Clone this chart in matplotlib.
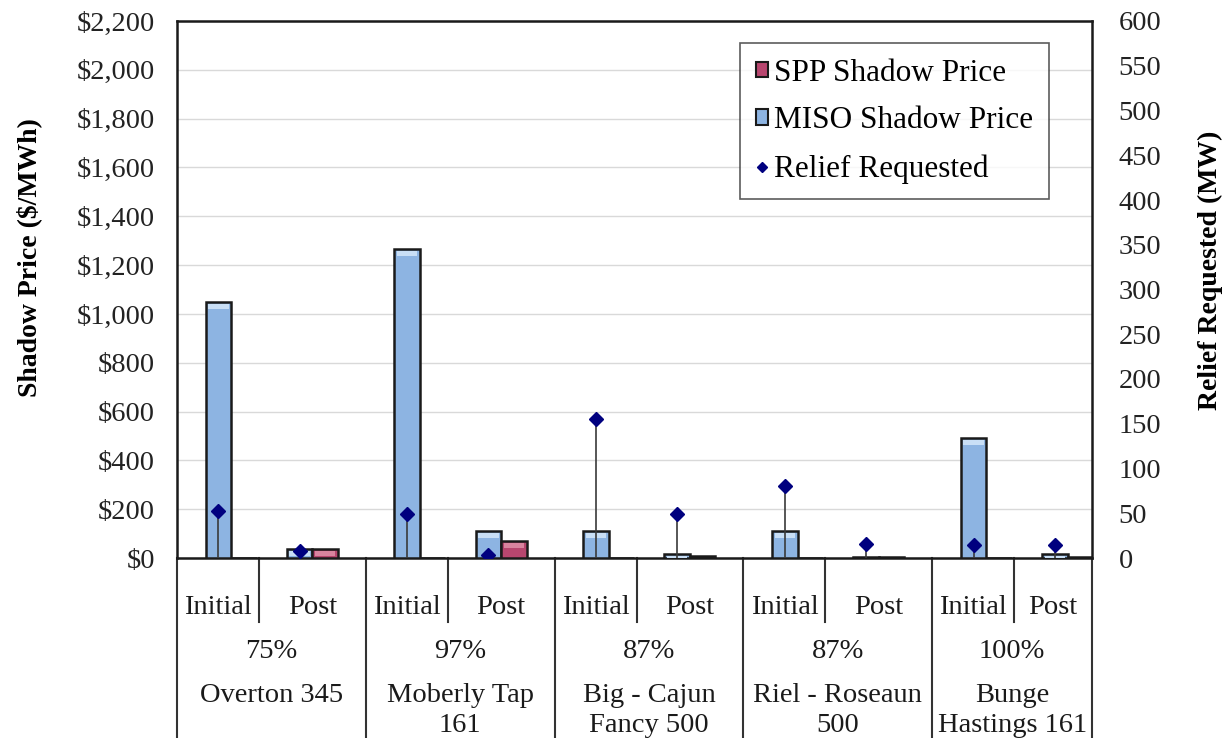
import matplotlib.pyplot as plt
import matplotlib.transforms as mtransforms
from matplotlib.patches import Patch
from matplotlib.lines import Line2D
from matplotlib.ticker import FuncFormatter, MultipleLocator

plt.rcParams['font.family'] = ['Liberation Serif', 'DejaVu Serif']

# data
constraints = ['Overton 345', 'Moberly Tap\n161', 'Big - Cajun\nFancy 500',
               'Riel - Roseaun\n500', 'Bunge\nHastings 161']
loading = ['75%', '97%', '87%', '87%', '100%']
phases = ['Initial', 'Post']

miso_initial = [1050, 1265, 110, 110, 490]
miso_post = [35, 110, 15, 3, 16]
spp_initial = [0, 0, 0, 0, 0]
spp_post = [38, 70, 8, 3, 6]
relief_initial = [52, 49, 155, 80, 15]
relief_post = [8, 3, 49, 16, 15]

MISO_COLOR = '#8DB4E2'
MISO_LIGHT = '#C9DFF6'
SPP_COLOR = '#B8466F'
SPP_LIGHT = '#D9849F'
EDGE = '#1a1a1a'

# layout inside one constraint group (group width = 1)
bar_w = 0.135
phase_off = [0.219, 0.649]
split = 0.434
x_max = 4.846
px = 2200 / 537  # dollars per pixel, for the light band at the bar tops


def draw_bars(xs, vals, color, light):
    ax.bar(xs, vals, width=bar_w, color=color, edgecolor=EDGE,
           linewidth=1.8, zorder=3)
    band_bottom = [max(v - 7 * px, 0) for v in vals]
    band_h = [max(v - 2 * px - b, 0) for v, b in zip(vals, band_bottom)]
    ax.bar(xs, band_h, bottom=band_bottom, width=bar_w * 0.8, color=light,
           linewidth=0, zorder=3.5)


fig = plt.figure(figsize=(12.25, 7.38), dpi=100)
ax = fig.add_axes([177 / 1225, 180 / 738, 915 / 1225, 537 / 738])
ax2 = ax.twinx()

n = len(constraints)
miso = [miso_initial, miso_post]
spp = [spp_initial, spp_post]
relief = [relief_initial, relief_post]

for p in range(2):
    xs = [g + phase_off[p] for g in range(n)]
    draw_bars(xs, miso[p], MISO_COLOR, MISO_LIGHT)
    draw_bars([x + bar_w for x in xs], spp[p], SPP_COLOR, SPP_LIGHT)
    ax2.vlines(xs, 0, relief[p], color='#3a3a3a', linewidth=1.2, zorder=4)
    ax2.plot(xs, relief[p], linestyle='none', marker='D', markersize=7,
             color='#00007F', zorder=5)

ax.set_xlim(0, x_max)
ax.set_ylim(0, 2200)
ax2.set_ylim(0, 600)
ax.yaxis.set_major_locator(MultipleLocator(200))
ax2.yaxis.set_major_locator(MultipleLocator(50))
ax.yaxis.set_major_formatter(FuncFormatter(lambda v, _: '\\${:,.0f}'.format(v)))
ax.set_xticks([])
ax.grid(axis='y', color='#D9D9D9', linewidth=1, zorder=0)
ax.set_axisbelow(True)

ax.tick_params(axis='y', length=0, pad=16, labelsize=20.5, labelcolor='#222222')
ax2.tick_params(axis='y', length=0, pad=19, labelsize=20.5, labelcolor='#222222')

for s in ax.spines.values():
    s.set_linewidth(1.8)
    s.set_color('#1a1a1a')
for s in ax2.spines.values():
    s.set_visible(False)

ax.set_ylabel('Shadow Price (\\$/MWh)', fontsize=20, fontweight='bold',
              va='center', ha='center')
ax.yaxis.set_label_coords(-0.162, 0.559)
ax2.set_ylabel('Relief Requested (MW)', fontsize=20, fontweight='bold',
               rotation=90, va='center', ha='center')
ax2.yaxis.set_label_coords(1.129, 0.536)

# category table under the plot
trans = mtransforms.blended_transform_factory(ax.transData, ax.transAxes)
line_kw = dict(color='#333333', linewidth=1.5, transform=trans, clip_on=False)
y_bottom = -180 / 537
y_phase = -64 / 537
for g in range(n + 1):
    xg = min(g, x_max)
    ax.plot([xg, xg], [0, y_bottom], **line_kw)
for g in range(n):
    ax.plot([g + split, g + split], [0, y_phase], **line_kw)

txt_kw = dict(transform=trans, ha='center', va='center', fontsize=20.5,
              color='#1a1a1a', clip_on=False)
for g in range(n):
    left, right = g, min(g + 1, x_max)
    ax.text((left + g + split) / 2, -49 / 537, phases[0], **txt_kw)
    ax.text((g + split + right) / 2, -49 / 537, phases[1], **txt_kw)
    mid = (left + right) / 2
    ax.text(mid, -93 / 537, loading[g], **txt_kw)
    for i, line in enumerate(constraints[g].split('\n')):
        ax.text(mid, (-137 - 30 * i) / 537, line, **txt_kw)

handles = [
    Patch(facecolor=SPP_COLOR, edgecolor=EDGE, linewidth=1.5),
    Patch(facecolor=MISO_COLOR, edgecolor=EDGE, linewidth=1.5),
    Line2D([], [], linestyle='none', marker='D', markersize=5, color='#00007F'),
]
labels = ['SPP Shadow Price', 'MISO Shadow Price', 'Relief Requested']
leg = fig.legend(handles, labels, loc='upper left',
                 bbox_to_anchor=(740 / 1225, 1 - 43 / 738),
                 fontsize=22.5, frameon=True, fancybox=False,
                 handlelength=0.4, handleheight=0.4, handletextpad=0.18,
                 borderpad=0.5, labelspacing=0.6, borderaxespad=0)
leg.get_frame().set_edgecolor('#333333')
leg.get_frame().set_linewidth(1.2)

fig.savefig('out.png', dpi=100)
